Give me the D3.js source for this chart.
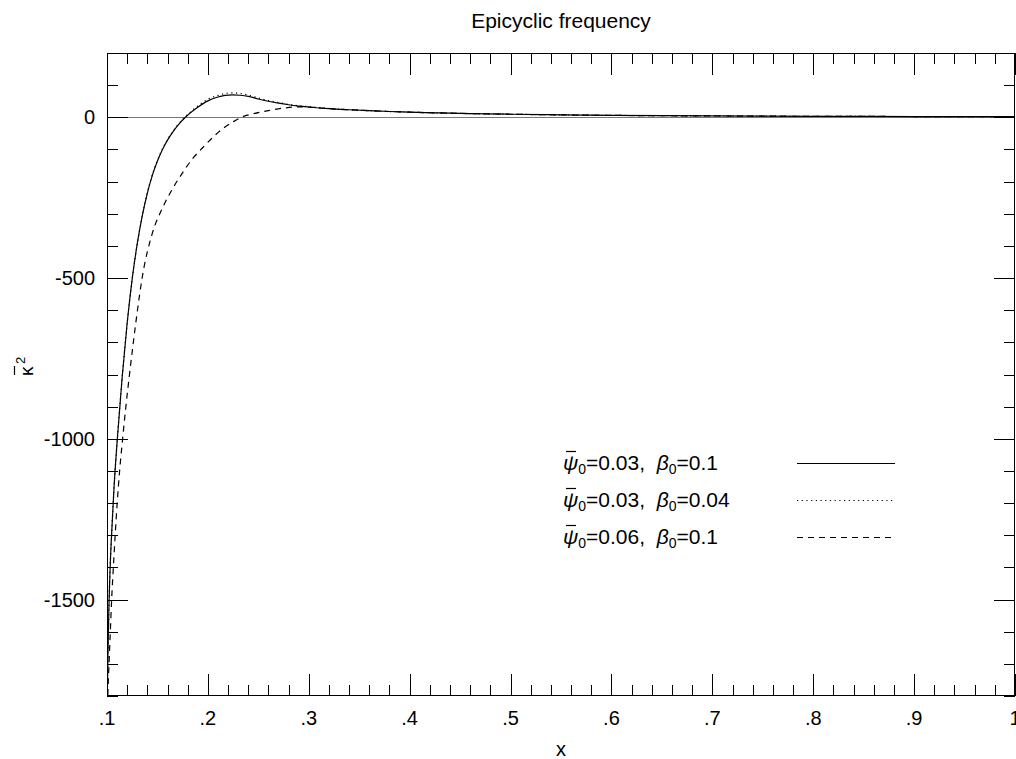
<!DOCTYPE html>
<html>
<head>
<meta charset="utf-8">
<script src="https://cdnjs.cloudflare.com/ajax/libs/d3/7.8.5/d3.min.js"></script>
<style>
  body { margin: 0; background: #fff; }
  text { font-family: "Liberation Sans", Arial, sans-serif; fill: #000; }
</style>
</head>
<body>
<svg id="plot" width="1016" height="759"></svg>
<script>
	// values
	var xSolid = [0.1, 0.1003, 0.101, 0.102, 0.103, 0.105, 0.107, 0.11, 0.115, 0.12, 0.125, 0.13, 0.135, 0.14, 0.145, 0.15, 0.155, 0.16, 0.165, 0.17, 0.1777, 0.19, 0.2, 0.21, 0.217, 0.224, 0.232, 0.24, 0.25, 0.26, 0.27, 0.28, 0.29, 0.3, 0.32, 0.34, 0.36, 0.38, 0.4, 0.43, 0.46, 0.5, 0.55, 0.6, 0.7, 0.8, 0.9, 1.0]
	var ySolid = [-1900, -1800, -1660, -1510, -1410, -1270, -1150, -1010, -810, -640, -502, -393, -306, -236, -180, -136, -100, -71, -47, -26, 0, 31, 51, 63, 68, 70, 68.5, 65, 57, 50, 44, 39, 35, 32, 27, 23.5, 20.5, 18, 16, 13.5, 11.5, 9.5, 7.5, 6, 4.2, 3.1, 2.4, 1.9]

	var xDotted = [0.1, 0.1003, 0.101, 0.102, 0.103, 0.105, 0.107, 0.11, 0.115, 0.12, 0.125, 0.13, 0.135, 0.14, 0.145, 0.15, 0.155, 0.16, 0.165, 0.17, 0.1777, 0.19, 0.2, 0.21, 0.217, 0.224, 0.232, 0.24, 0.25, 0.26, 0.27, 0.28, 0.29, 0.3, 0.32, 0.34, 0.36, 0.38, 0.4, 0.43, 0.46, 0.5, 0.55, 0.6, 0.7, 0.8, 0.9, 1.0]
	var yDotted = [-1900, -1800, -1660, -1510, -1410, -1270, -1150, -1010, -810, -640, -502, -393, -305, -234, -178, -134, -98, -69, -45, -24, 2, 35, 56, 68, 74, 76, 74, 69, 60, 52, 46, 40, 36, 33, 27.5, 23.5, 20.5, 18, 16, 13.5, 11.5, 9.5, 7.5, 6, 4.2, 3.1, 2.4, 1.9]

	var xDashed = [0.1, 0.1008, 0.102, 0.1033, 0.1046, 0.1063, 0.1081, 0.1101, 0.1125, 0.1155, 0.1187, 0.1223, 0.1261, 0.1302, 0.1348, 0.145, 0.155, 0.165, 0.175, 0.185, 0.195, 0.205, 0.215, 0.225, 0.233, 0.245, 0.26, 0.275, 0.29, 0.3, 0.32, 0.34, 0.36, 0.38, 0.4, 0.43, 0.46, 0.5, 0.55, 0.6, 0.7, 0.8, 0.9, 1.0]
	var yDashed = [-1900, -1800, -1700, -1600, -1500, -1400, -1300, -1200, -1100, -1000, -900, -800, -700, -600, -500, -360, -282, -222, -172, -128, -94, -62, -35, -14, 0, 11, 21, 28.5, 32.5, 31.5, 27, 23.5, 20.5, 18, 16, 13.5, 11.5, 9.5, 7.5, 6, 4.2, 3.1, 2.4, 1.9]

	var legendPsi = ["0.03", "0.03", "0.06"]
	var legendBeta = ["0.1", "0.04", "0.1"]
	var xTickLabels = [".1", ".2", ".3", ".4", ".5", ".6", ".7", ".8", ".9", "1"]
	var yTickValues = [0, -500, -1000, -1500]

	// plot box (window.top is reserved, so use other names)
	var pLeft = 107, pRight = 1015, pTop = 53, pBottom = 696

	var svg = d3.select("#plot")
	var x = d3.scaleLinear().domain([0.1, 1.0]).range([pLeft, pRight])
	var y = d3.scaleLinear().domain([-1800, 200]).range([pBottom, pTop])

	svg.append("clipPath").attr("id", "clip")
	   .append("rect")
	   .attr("x", pLeft).attr("y", pTop)
	   .attr("width", pRight - pLeft).attr("height", pBottom - pTop)

	// zero line
	svg.append("line")
	   .attr("x1", pLeft).attr("x2", pRight)
	   .attr("y1", Math.round(y(0)) + 0.5).attr("y2", Math.round(y(0)) + 0.5)
	   .attr("stroke", "#777").attr("stroke-width", 1.2)

	// ticks, drawn inward on all four sides
	var xMinor = d3.range(0, 46).map(i => 0.1 + i * 0.02)
	var yMinor = d3.range(0, 21).map(i => -1800 + i * 100)

	var tickG = svg.append("g").attr("stroke", "#000").attr("stroke-width", 1)
	xMinor.forEach(function(v, i) {
		var major = i % 5 == 0
		var len = major ? 22 : 11
		var px = Math.round(x(v)) + 0.5
		tickG.append("line").attr("x1", px).attr("x2", px).attr("y1", pBottom).attr("y2", pBottom - len)
		tickG.append("line").attr("x1", px).attr("x2", px).attr("y1", pTop).attr("y2", pTop + len)
	})
	yMinor.forEach(function(v) {
		var major = v % 500 == 0
		var len = major ? 21 : 11
		var py = Math.round(y(v)) + 0.5
		tickG.append("line").attr("x1", pLeft).attr("x2", pLeft + len).attr("y1", py).attr("y2", py)
		tickG.append("line").attr("x1", pRight).attr("x2", pRight - len).attr("y1", py).attr("y2", py)
	})

	// frame
	svg.append("rect")
	   .attr("x", pLeft + 0.5).attr("y", pTop + 0.5)
	   .attr("width", pRight - pLeft - 1).attr("height", pBottom - pTop - 1)
	   .attr("fill", "none").attr("stroke", "#000").attr("stroke-width", 1)

	// tick labels
	xTickLabels.forEach(function(t, i) {
		svg.append("text")
		   .attr("x", x(0.1 + i * 0.1)).attr("y", 725)
		   .attr("text-anchor", "middle").attr("font-size", 20)
		   .text(t)
	})
	yTickValues.forEach(function(v) {
		svg.append("text")
		   .attr("x", 95).attr("y", y(v) + 7)
		   .attr("text-anchor", "end").attr("font-size", 20)
		   .text(v == 0 ? "0" : "-" + Math.abs(v))
	})

	// title and axis labels
	svg.append("text").attr("x", 561).attr("y", 28)
	   .attr("text-anchor", "middle").attr("font-size", 21)
	   .text("Epicyclic frequency")
	svg.append("text").attr("x", 561).attr("y", 756)
	   .attr("text-anchor", "middle").attr("font-size", 20)
	   .text("x")

	// y label: kappa with a bar, squared, read bottom to top
	var ylab = svg.append("g").attr("transform", "translate(33,376) rotate(-90)")
	ylab.append("text").attr("x", 0).attr("y", 0).attr("font-size", 19).text("\u03BA")
	ylab.append("line").attr("x1", 1).attr("x2", 10).attr("y1", -18.5).attr("y2", -18.5)
	   .attr("stroke", "#000").attr("stroke-width", 1.2)
	ylab.append("text").attr("x", 12).attr("y", -8).attr("font-size", 13).text("2")

	// curves
	var line = d3.line()
		.x(d => x(d[0]))
		.y(d => y(d[1]))
		.curve(d3.curveMonotoneX)

	var series = [
		{ xs: xSolid, ys: ySolid, dash: null },
		{ xs: xDotted, ys: yDotted, dash: "1.2,3.5" },
		{ xs: xDashed, ys: yDashed, dash: "6,5" }
	]
	var curves = svg.append("g").attr("clip-path", "url(#clip)")
	series.forEach(function(s) {
		curves.append("path")
		   .datum(d3.zip(s.xs, s.ys))
		   .attr("d", line)
		   .attr("fill", "none")
		   .attr("stroke", "#000")
		   .attr("stroke-width", 1.2)
		   .attr("stroke-dasharray", s.dash)
	})

	// legend
	var legendY = [463, 500, 537]
	series.forEach(function(s, i) {
		var g = svg.append("g").attr("transform", "translate(563," + (legendY[i] + 7) + ")")
		var t = g.append("text").attr("font-size", 21)
		t.append("tspan").attr("font-style", "italic").text("\u03C8")
		t.append("tspan").attr("dy", 4).attr("font-size", 14).text("0")
		t.append("tspan").attr("dy", -4).text("=" + legendPsi[i] + ",\u00A0\u00A0")
		t.append("tspan").attr("font-style", "italic").text("\u03B2")
		t.append("tspan").attr("dy", 4).attr("font-size", 14).text("0")
		t.append("tspan").attr("dy", -4).text("=" + legendBeta[i])
		// bar over psi
		g.append("line").attr("x1", 3).attr("x2", 13).attr("y1", -18.5).attr("y2", -18.5)
		   .attr("stroke", "#000").attr("stroke-width", 1.2)
		svg.append("line")
		   .attr("x1", 797).attr("x2", 895)
		   .attr("y1", legendY[i] + 0.5).attr("y2", legendY[i] + 0.5)
		   .attr("stroke", "#000").attr("stroke-width", 1.2)
		   .attr("stroke-dasharray", s.dash)
	})
</script>
</body>
</html>
